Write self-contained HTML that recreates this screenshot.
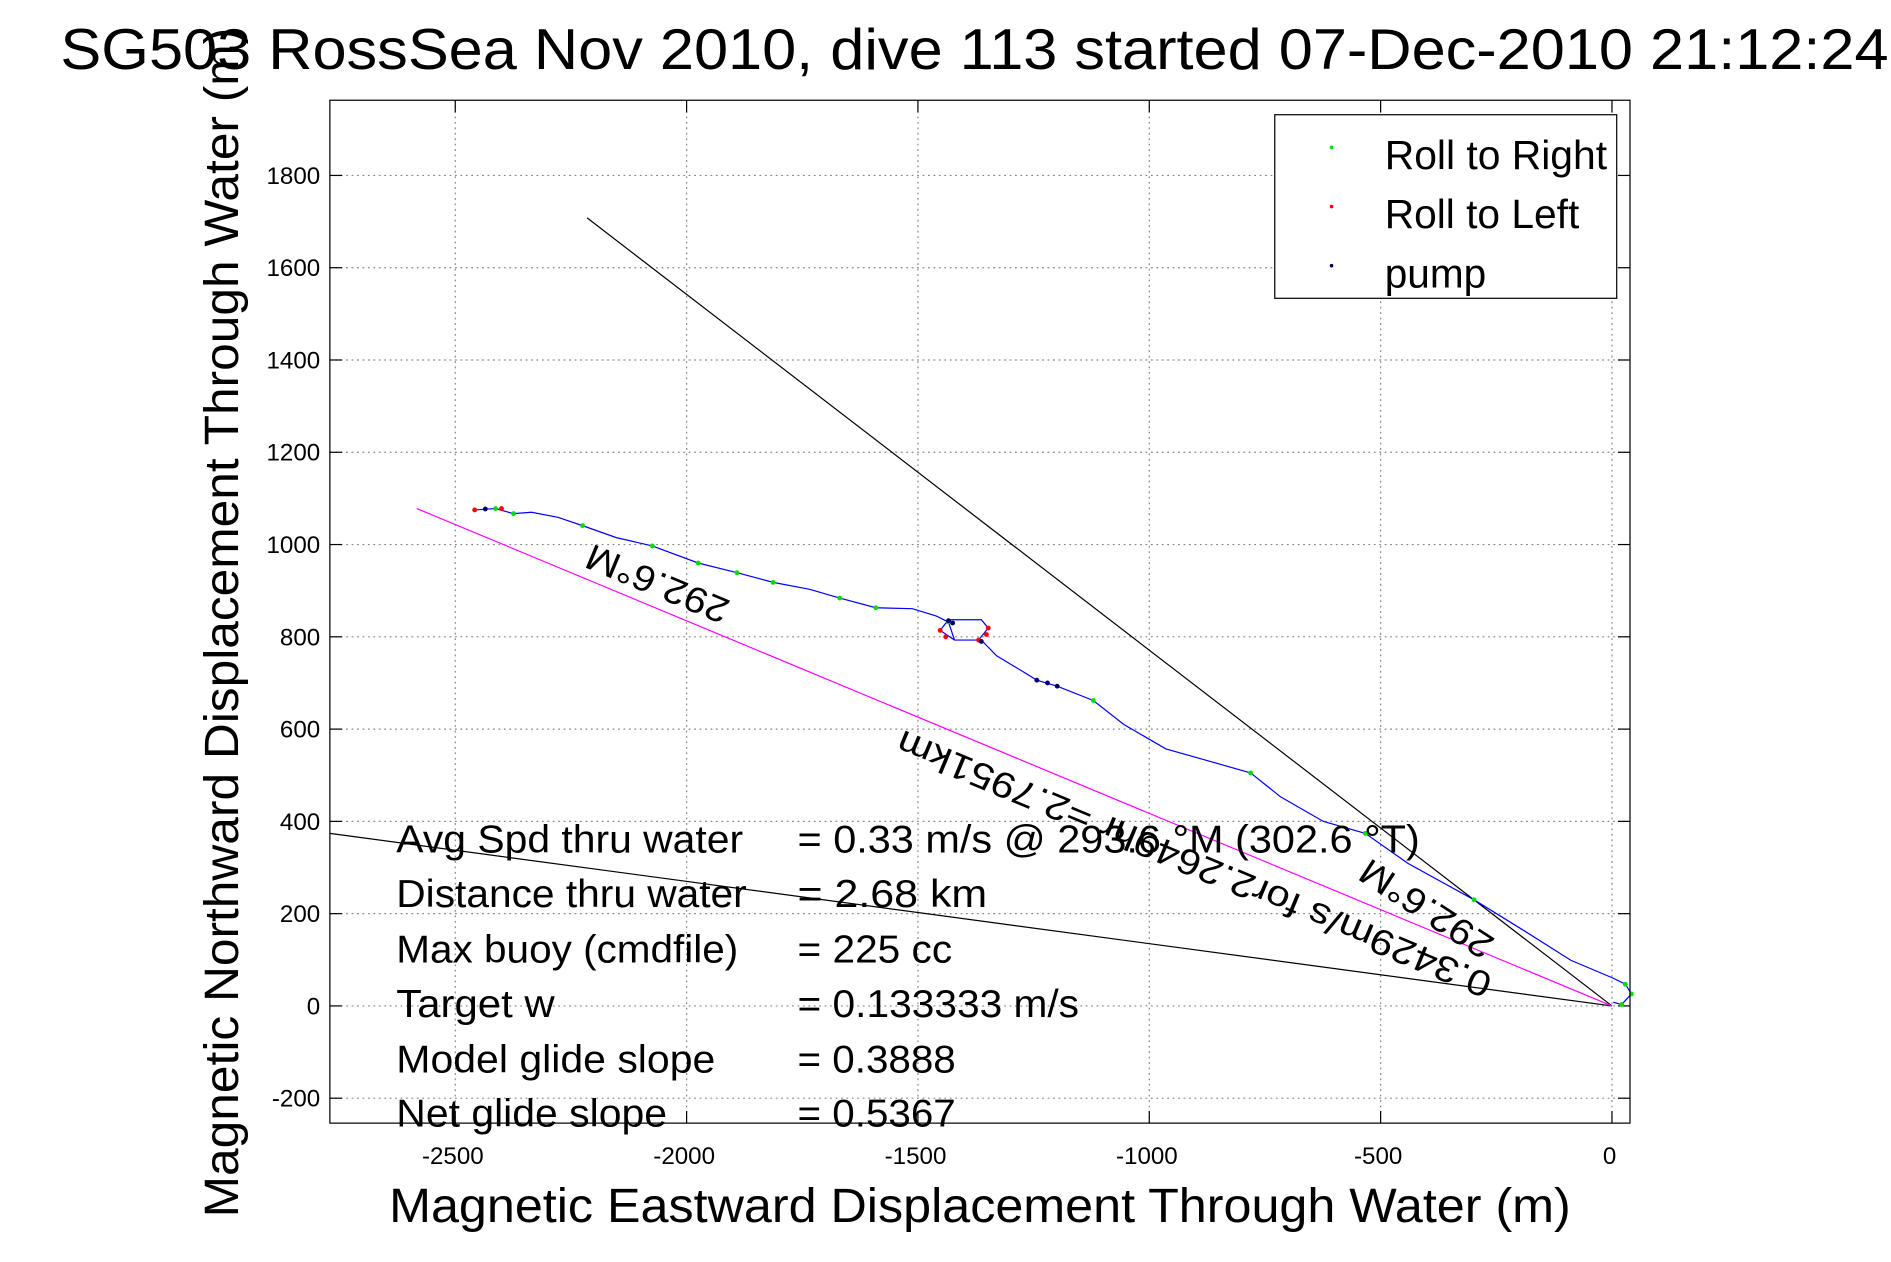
<!DOCTYPE html>
<html><head><meta charset="utf-8"><style>
html,body{margin:0;padding:0;background:#fff;}
svg{display:block;font-family:"Liberation Sans",sans-serif;}
</style></head><body>
<svg id="chart" width="1891" height="1262" viewBox="0 0 1565 1045" preserveAspectRatio="none" xmlns="http://www.w3.org/2000/svg">
<rect x="0" y="0" width="1565" height="1045" fill="#fff"/>
<text x="50" y="57" font-size="48" textLength="1513" lengthAdjust="spacingAndGlyphs">SG503 RossSea Nov 2010, dive 113 started 07-Dec-2010 21:12:24</text>
<g id="grid"></g>
<g id="ticks"></g>
<g id="marks"></g>
<rect x="273" y="83" width="1076" height="847" fill="none" stroke="#000" stroke-width="1"/>
<text x="322" y="1012" font-size="40" textLength="978" lengthAdjust="spacingAndGlyphs">Magnetic Eastward Displacement Through Water (m)</text>
<text transform="translate(197,1008) rotate(-90)" font-size="40" textLength="985" lengthAdjust="spacingAndGlyphs">Magnetic Northward Displacement Through Water (m)</text>
<g font-size="32">
<text x="328" y="706" textLength="287" lengthAdjust="spacingAndGlyphs">Avg Spd thru water</text>
<text x="660" y="706" textLength="515" lengthAdjust="spacingAndGlyphs">=  0.33 m/s @ 293.6 °M (302.6 °T)</text>
<text x="328" y="751" textLength="290" lengthAdjust="spacingAndGlyphs">Distance thru water</text>
<text x="660" y="751" textLength="157" lengthAdjust="spacingAndGlyphs">=  2.68 km</text>
<text x="328" y="797" textLength="283" lengthAdjust="spacingAndGlyphs">Max buoy (cmdfile)</text>
<text x="660" y="797" textLength="128" lengthAdjust="spacingAndGlyphs">= 225 cc</text>
<text x="328" y="842" textLength="131" lengthAdjust="spacingAndGlyphs">Target w</text>
<text x="660" y="842" textLength="233" lengthAdjust="spacingAndGlyphs">= 0.133333 m/s</text>
<text x="328" y="888" textLength="264" lengthAdjust="spacingAndGlyphs">Model glide slope</text>
<text x="660" y="888" textLength="131" lengthAdjust="spacingAndGlyphs">= 0.3888</text>
<text x="328" y="933" textLength="224" lengthAdjust="spacingAndGlyphs">Net glide slope</text>
<text x="660" y="933" textLength="131" lengthAdjust="spacingAndGlyphs">= 0.5367</text>
</g>
<g font-size="30">
<text transform="translate(548,474) rotate(202.6)" text-anchor="middle" textLength="125" lengthAdjust="spacingAndGlyphs">292.6°M</text>
<text transform="translate(992,706) rotate(202.6)" text-anchor="middle" textLength="530" lengthAdjust="spacingAndGlyphs">0.3429m/s for2.2649hr =2.7951km</text>
<text transform="translate(1186,744) rotate(213)" text-anchor="middle" textLength="125" lengthAdjust="spacingAndGlyphs">292.6°M</text>
</g>
<g>
<rect x="1055" y="95" width="283" height="152" fill="#fff" stroke="#000" stroke-width="1"/>
<circle cx="1102" cy="122" r="1.5" fill="#00dd00"/>
<circle cx="1102" cy="171" r="1.5" fill="#ff0000"/>
<circle cx="1102" cy="220" r="1.5" fill="#000066"/>
<text x="1146" y="140" font-size="34" textLength="184" lengthAdjust="spacingAndGlyphs">Roll to Right</text>
<text x="1146" y="189" font-size="34" textLength="161" lengthAdjust="spacingAndGlyphs">Roll to Left</text>
<text x="1146" y="238" font-size="34" textLength="84" lengthAdjust="spacingAndGlyphs">pump</text>
</g>
</svg>
<script>
const xTicks = [-2500, -2000, -1500, -1000, -500, 0];
const yTicks = [-200, 0, 200, 400, 600, 800, 1000, 1200, 1400, 1600, 1800];
const trackX = [-2458,-2413,-2374,-2335,-2278,-2225,-2152,-2074,-1975,-1891,-1813,-1734,-1669,-1591,-1512,-1460,-1434,-1421,-1369,-1348,-1363,-1434,-1452,-1421,-1363,-1330,-1277,-1243,-1199,-1121,-1055,-964,-872,-781,-716,-624,-533,-441,-298,-193,-89,3,29,42,21,3];
const trackY = [1075,1078,1067,1070,1059,1041,1015,997,960,939,918,903,884,863,861,845,832,793,793,819,837,837,814,793,793,759,727,706,693,662,610,557,531,505,453,400,374,309,230,165,99,60,47,26,3,8];
const greenX = [-2413,-2374,-2225,-2074,-1975,-1891,-1813,-1669,-1591,-1121,-781,-533,-298,29,42,21,-1434];
const greenY = [1078,1067,1041,997,960,939,918,884,863,662,505,374,230,47,26,3,832];
const redX = [-2458,-2400,-1452,-1440,-1348,-1352,-1369];
const redY = [1075,1078,814,800,819,805,793];
const pumpX = [-2435,-1434,-1425,-1363,-1243,-1220,-1199];
const pumpY = [1077,835,830,790,706,700,693];
const line1X = [-2215, 0];
const line1Y = [1708, 0];
const line2X = [-2771, 0];
const line2Y = [374, 0];
const magX = [-2583, 0];
const magY = [1078, 0];

const NS = "http://www.w3.org/2000/svg";
const X0 = -2771, X1 = 39, Y0 = -254, Y1 = 1963;
const PL = 273, PR = 1349, PT = 83, PB = 930;
function sx(v){ return PL + (v - X0) / (X1 - X0) * (PR - PL); }
function sy(v){ return PB - (v - Y0) / (Y1 - Y0) * (PB - PT); }
function mk(tag, attrs, parent){
  const e = document.createElementNS(NS, tag);
  for (const k in attrs) e.setAttribute(k, attrs[k]);
  parent.appendChild(e);
  return e;
}
const grid = document.getElementById('grid');
const ticks = document.getElementById('ticks');
const marks = document.getElementById('marks');
xTicks.forEach(t => {
  const x = sx(t);
  const g = mk('line', {x1:x, x2:x, y1:PT, y2:PB, stroke:'#888', 'stroke-width':1, 'stroke-dasharray':'1.5,3'}, grid);
  
  
  mk('line', {x1:x, x2:x, y1:PB, y2:PB-10, stroke:'#000'}, ticks);
  mk('line', {x1:x, x2:x, y1:PT, y2:PT+10, stroke:'#000'}, ticks);
  const l = mk('text', {x:x-2, y:PB+34, 'font-size':20, 'text-anchor':'middle'}, ticks);
  
  
  l.textContent = t;
});
yTicks.forEach(t => {
  const y = sy(t);
  const g = mk('line', {x1:PL, x2:PR, y1:y, y2:y, stroke:'#888', 'stroke-width':1, 'stroke-dasharray':'1.5,3'}, grid);
  
  
  mk('line', {x1:PL, x2:PL+10, y1:y, y2:y, stroke:'#000'}, ticks);
  mk('line', {x1:PR, x2:PR-10, y1:y, y2:y, stroke:'#000'}, ticks);
  const l = mk('text', {x:PL-8, y:y+7, 'font-size':20, 'text-anchor':'end'}, ticks);
  
  
  l.textContent = t;
});
function seg(xs, ys, color, name){
  const e = mk('line', {x1:sx(xs[0]), y1:sy(ys[0]), x2:sx(xs[1]), y2:sy(ys[1]), stroke:color, 'stroke-width':1}, marks);
  
  
}
seg(line1X, line1Y, '#000', 'heading-line-1');
seg(line2X, line2Y, '#000', 'heading-line-2');
seg(magX, magY, '#ff00ff', 'net-displacement-line');
const tr = mk('polyline', {points: trackX.map((v,i)=>sx(v)+','+sy(trackY[i])).join(' '), fill:'none', stroke:'#0000ff', 'stroke-width':1}, marks);


function dots(xs, ys, color, name){
  xs.forEach((v,i) => {
    const c = mk('circle', {cx:sx(v), cy:sy(ys[i]), r:2, fill:color}, marks);
    
    
  });
}
dots(greenX, greenY, '#00dd00', 'roll-right-point');
dots(redX, redY, '#ff0000', 'roll-left-point');
dots(pumpX, pumpY, '#000066', 'pump-point');
</script>
</body></html>
